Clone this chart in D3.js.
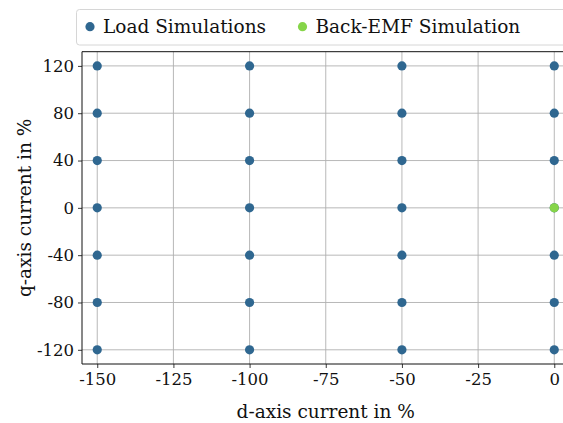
<!DOCTYPE html>
<html>
<head>
<meta charset="utf-8">
<script src="https://cdn.jsdelivr.net/npm/d3@7"></script>
<style>
  html, body { margin: 0; padding: 0; background: #fff; }
  svg { display: block; }
  text { font-family: "DejaVu Serif", "Liberation Serif", serif; fill: #111; }
</style>
</head>
<body>
<svg id="chart" width="563" height="423"></svg>
<script>
// Operating points of the simulation grid (d- and q-axis current in %)
const dCurrents = [-150, -100, -50, 0];
const qCurrents = [-120, -80, -40, 0, 40, 80, 120];
const backEmfPoint = [{ d: 0, q: 0 }];
const xTicks = [-150, -125, -100, -75, -50, -25, 0];
const yTicks = [-120, -80, -40, 0, 40, 80, 120];
const seriesNames = ["Load Simulations", "Back-EMF Simulation"];
const seriesColors = ["#2f6790", "#86d549"];

const loadPoints = [];
dCurrents.forEach(d => qCurrents.forEach(q => loadPoints.push({ d, q })));

const svg = d3.select("#chart");
const tickFs = 16.5;
const labelFs = 18.5;

const x = d3.scaleLinear().domain([-155, 5]).range([82, 569.5]);
const y = d3.scaleLinear().domain([-132, 132]).range([364, 51.7]);

const plot = svg.append("g");

// grid
plot.append("g").selectAll("line").data(xTicks).join("line")
  .attr("x1", d => x(d)).attr("x2", d => x(d))
  .attr("y1", y.range()[0]).attr("y2", y.range()[1])
  .attr("stroke", "#b0b0b0").attr("stroke-width", 0.9);
plot.append("g").selectAll("line").data(yTicks).join("line")
  .attr("y1", d => y(d)).attr("y2", d => y(d))
  .attr("x1", x.range()[0]).attr("x2", x.range()[1])
  .attr("stroke", "#b0b0b0").attr("stroke-width", 0.9);

// axes
const xAxis = d3.axisBottom(x).tickValues(xTicks).tickSize(4).tickPadding(5)
  .tickFormat(d3.format("d"));
const yAxis = d3.axisLeft(y).tickValues(yTicks).tickSize(4).tickPadding(4)
  .tickFormat(d3.format("d"));

const gx = svg.append("g").attr("transform", `translate(0,${y.range()[0]})`).call(xAxis);
const gy = svg.append("g").attr("transform", `translate(${x.range()[0]},0)`).call(yAxis);
[gx, gy].forEach(g => {
  g.select(".domain").remove();
  g.selectAll(".tick line").attr("stroke", "#222").attr("stroke-width", 0.9);
  g.selectAll(".tick text").attr("font-size", tickFs).attr("font-family", "DejaVu Serif").attr("fill", "#111")
    .text(d => d < 0 ? "-" + Math.abs(d) : d);
});

// spines (left, bottom, top)
svg.append("line").attr("x1", x.range()[0]).attr("x2", x.range()[0])
  .attr("y1", y.range()[0]).attr("y2", y.range()[1]).attr("stroke", "#111").attr("stroke-width", 1);
svg.append("line").attr("x1", x.range()[0]).attr("x2", x.range()[1])
  .attr("y1", y.range()[0]).attr("y2", y.range()[0]).attr("stroke", "#111").attr("stroke-width", 1);
svg.append("line").attr("x1", x.range()[0]).attr("x2", x.range()[1])
  .attr("y1", y.range()[1]).attr("y2", y.range()[1]).attr("stroke", "#111").attr("stroke-width", 1);

// points
plot.append("g").selectAll("circle").data(loadPoints).join("circle")
  .attr("cx", d => x(d.d)).attr("cy", d => y(d.q)).attr("r", 4.6)
  .attr("fill", seriesColors[0]);
plot.append("g").selectAll("circle").data(backEmfPoint).join("circle")
  .attr("cx", d => x(d.d)).attr("cy", d => y(d.q)).attr("r", 4.6)
  .attr("fill", seriesColors[1]);

// axis titles
const xMid = (x.range()[0] + x.range()[1]) / 2;
const yMid = (y.range()[0] + y.range()[1]) / 2;
svg.append("text").attr("x", xMid).attr("y", 418).attr("text-anchor", "middle")
  .attr("font-size", labelFs).text("d-axis current in %");
svg.append("text").attr("transform", `translate(31,${yMid}) rotate(-90)`)
  .attr("text-anchor", "middle").attr("font-size", labelFs).text("q-axis current in %");

// legend
const lg = svg.append("g");
lg.append("rect").attr("x", 76.5).attr("y", 9.5).attr("width", 500).attr("height", 35.5)
  .attr("rx", 3).attr("fill", "#fff").attr("stroke", "#d6d6d6").attr("stroke-width", 1);
const legendX = [90, 302.5];
seriesNames.forEach((name, i) => {
  lg.append("circle").attr("cx", legendX[i]).attr("cy", 26.7).attr("r", 4.6).attr("fill", seriesColors[i]);
  lg.append("text").attr("x", legendX[i] + 13).attr("y", 33).attr("font-size", labelFs).text(name);
});
</script>
</body>
</html>
